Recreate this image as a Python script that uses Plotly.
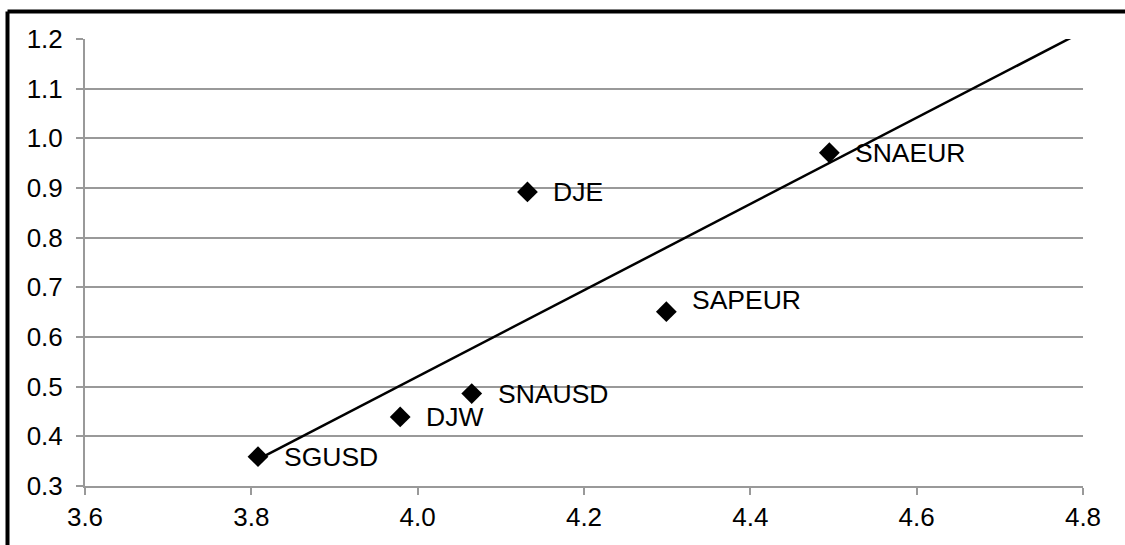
import numpy as np
import plotly.graph_objects as go

# Data
names = ["SGUSD", "DJW", "SNAUSD", "DJE", "SAPEUR", "SNAEUR"]
x_vals = [3.808, 3.979, 4.065, 4.132, 4.299, 4.495]
y_vals = [0.359, 0.439, 0.486, 0.892, 0.651, 0.971]
label_yshift = [0, 0, 0, 0, 12, 0]

x_range = [3.6, 4.8]
y_range = [0.3, 1.2]

W, H = 1125, 545
ML, MR, MT, MB = 85, 42, 39, 59
FONT = "Liberation Sans, Arial, sans-serif"
GRID = "#999999"

slope, intercept = np.polyfit(x_vals, y_vals, 1)
tx = np.array([min(x_vals), x_range[1]])
ty = slope * tx + intercept

fig = go.Figure()
fig.add_trace(go.Scatter(x=tx, y=ty, mode="lines",
                         line=dict(color="black", width=2.5),
                         hoverinfo="skip", showlegend=False))
fig.add_trace(go.Scatter(x=x_vals, y=y_vals, mode="markers",
                         marker=dict(symbol="diamond", size=16, color="black"),
                         showlegend=False))

for n, xv, yv, ys in zip(names, x_vals, y_vals, label_yshift):
    fig.add_annotation(x=xv, y=yv, text=n, showarrow=False,
                       xanchor="left", yanchor="middle", xshift=24, yshift=ys,
                       font=dict(family=FONT, size=26.5, color="black"))

pw = W - ML - MR
ph = H - MT - MB
fx = (7.5 - ML) / pw
fy = 1 + (MT - 11.5) / ph
fig.add_shape(type="line", xref="paper", yref="paper", x0=fx, x1=fx, y0=-0.5, y1=fy,
              line=dict(color="black", width=4))
fig.add_shape(type="line", xref="paper", yref="paper", x0=fx, x1=1.5, y0=fy, y1=fy,
              line=dict(color="black", width=4))

fig.update_layout(
    width=W, height=H,
    margin=dict(l=ML, r=MR, t=MT, b=MB),
    plot_bgcolor="white", paper_bgcolor="white",
    font=dict(family=FONT, size=26, color="black"),
    xaxis=dict(range=x_range, dtick=0.2, tick0=3.6, tickformat=".1f",
               showgrid=False, zeroline=False, showline=True, linecolor=GRID, linewidth=2,
               ticks="outside", ticklen=7, tickwidth=2, tickcolor=GRID,
               tickfont=dict(family=FONT, size=26, color="black")),
    yaxis=dict(range=y_range, dtick=0.1, tick0=0.3, tickformat=".1f",
               showgrid=True, gridcolor=GRID, gridwidth=2, zeroline=False,
               showline=True, linecolor=GRID, linewidth=2,
               ticks="outside", ticklen=7, tickwidth=2, tickcolor=GRID,
               ticklabelstandoff=8,
               tickfont=dict(family=FONT, size=26, color="black")),
)

fig.write_html("out.html", config={"displayModeBar": False},
               post_script="document.body.style.margin='0';")
